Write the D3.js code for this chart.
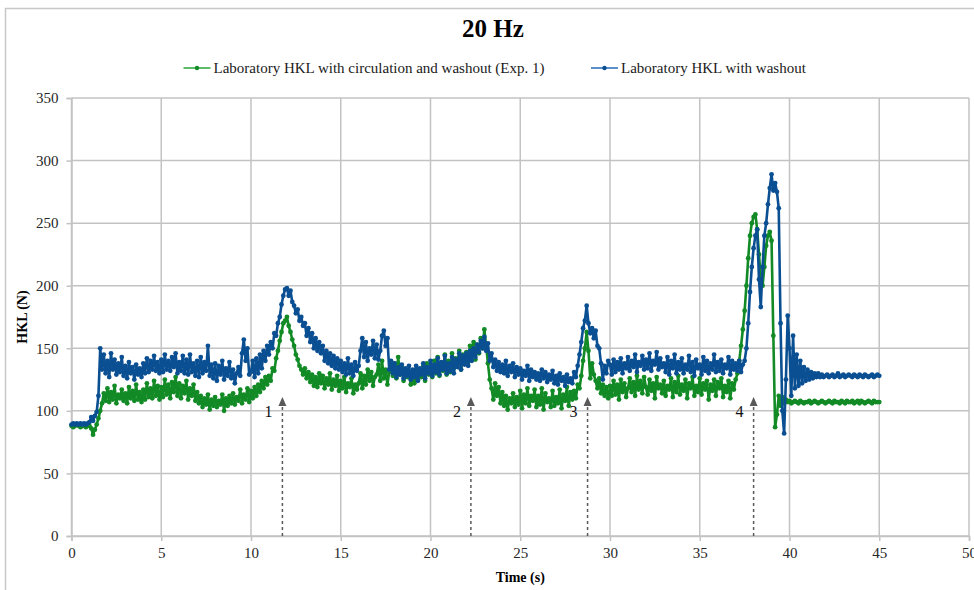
<!DOCTYPE html>
<html>
<head>
<meta charset="utf-8">
<script src="https://cdn.jsdelivr.net/npm/d3@7"></script>
<style>
body { margin: 0; background: #fff; }
svg text { font-family: "Liberation Serif", "Times New Roman", serif; }
</style>
</head>
<body>
<svg></svg>
<script>
var width = 974, height = 590;
var margin = {top: 98, right: 5, bottom: 54, left: 71.5};

var chartTitle = '20 Hz';
var xTitle = 'Time (s)';
var yTitle = 'HKL (N)';
var seriesNames = ['Laboratory HKL with circulation and washout (Exp. 1)', 'Laboratory HKL with washout'];

// samples every 0.1 s, starting at 0 s
var sampleStep = 0.1;

var greenValues = [
    88,87,88,89,88,87,88,88,87,88,
    88,86,81,85,89,94,100,106,114,108,
    118,107,115,109,120,106,113,110,117,108,
    114,106,119,110,116,108,121,109,115,107,
    117,109,122,111,118,110,124,112,120,109,
    119,111,125,113,121,110,123,115,127,112,
    122,110,120,114,124,109,118,112,121,108,
    115,106,112,103,110,105,113,101,109,104,
    111,103,108,105,113,100,110,104,112,106,
    114,105,111,108,117,106,113,109,118,107,
    116,110,119,112,121,115,124,118,127,121,
    128,124,134,132,142,148,156,163,170,172,
    175,168,163,157,152,145,141,136,133,129,
    134,126,131,123,129,120,127,119,130,122,
    128,118,126,121,130,117,125,120,128,116,
    124,118,127,115,122,119,126,114,121,117,
    122,130,118,128,121,133,124,131,120,127,
    129,137,124,140,126,133,121,131,136,128,
    138,126,143,129,135,124,132,127,130,121,
    128,122,133,125,131,127,136,124,138,129,
    135,127,140,130,143,128,138,132,145,129,
    140,131,146,134,142,136,148,133,145,138,
    147,139,152,144,155,141,153,146,158,150,
    165,152,138,125,118,109,122,112,119,106,
    115,104,112,101,110,106,114,103,111,105,
    116,102,113,106,118,104,112,108,117,103,
    112,105,118,101,114,107,110,103,116,104,
    111,106,117,102,113,108,119,104,115,109,
    116,110,121,118,128,140,150,163,148,126,
    138,129,124,118,126,114,121,112,119,110,
    120,112,124,113,121,109,125,115,122,111,
    118,126,115,123,112,128,117,124,114,127,
    119,113,125,116,122,110,127,118,121,114,
    124,112,120,117,126,111,123,115,128,113,
    121,116,125,110,122,118,127,112,120,115,
    126,113,122,117,124,109,121,116,125,112,
    123,118,126,111,120,115,124,110,122,117,
    125,130,140,152,165,180,200,222,240,250,
    255,257,245,225,205,200,215,232,240,243,
    236,160,87,97,112,104,111,106,109,107,
    108,106,107,108,107,106,108,107,106,107,
    107,108,106,107,108,107,106,107,108,107,
    106,107,108,107,106,108,107,107,106,108,
    107,106,108,107,107,108,106,107,108,106,
    108,107,106,107,108,107,106,108,107,107,
    107
];

var blueValues = [
    89,90,89,90,89,90,89,90,89,90,
    91,95,92,96,99,112,150,133,145,130,
    140,127,146,133,141,129,138,131,143,128,
    136,126,139,130,135,125,137,129,134,127,
    138,130,142,131,140,133,144,132,139,130,
    141,131,145,133,140,132,143,135,146,130,
    139,132,144,130,141,129,145,131,138,128,
    140,127,143,130,139,132,152,128,137,126,
    138,124,136,129,140,125,134,128,139,126,
    133,122,130,135,128,146,157,140,150,129,
    131,140,127,142,130,145,134,148,140,152,
    145,155,150,162,160,170,175,185,192,197,
    198,192,196,187,184,178,181,172,175,168,
    170,160,166,155,162,150,158,148,155,146,
    152,140,148,138,146,136,144,134,142,133,
    140,131,138,129,142,130,137,128,139,132,
    136,148,158,143,155,140,150,145,156,142,
    153,141,148,160,164,152,158,133,140,130,
    138,127,135,129,137,126,134,128,136,125,
    133,127,136,124,134,129,138,126,135,130,
    140,128,137,131,142,129,139,133,144,130,
    138,132,143,130,141,135,146,133,144,137,
    146,136,148,140,150,143,153,147,156,150,
    159,148,154,140,146,135,141,132,139,131,
    137,130,140,128,136,131,138,127,135,129,
    134,125,132,128,136,124,133,127,131,125,
    130,124,133,126,131,123,129,125,132,122,
    128,121,130,124,127,120,129,123,126,122,
    131,127,136,145,155,166,172,184,170,162,
    166,158,164,152,150,138,125,136,130,140,
    137,129,141,131,139,133,142,130,138,134,
    143,132,140,135,145,131,139,136,144,133,
    141,134,146,132,140,137,147,133,142,135,
    138,131,143,129,140,134,145,130,139,133,
    142,130,137,133,144,131,139,128,141,134,
    137,129,143,132,140,130,138,133,145,131,
    139,132,141,130,137,134,143,129,140,133,
    138,132,140,131,137,140,150,170,195,215,
    230,240,245,205,183,215,240,250,265,278,
    289,276,282,275,262,170,100,82,125,176,
    150,112,160,118,145,120,140,122,135,124,
    133,125,131,126,130,127,130,127,129,127,
    128,129,127,128,129,127,128,130,127,128,
    129,127,128,129,128,127,129,128,127,129,
    128,127,129,128,127,128,129,127,128,129,
    128
];

var xTicks = [0, 5, 10, 15, 20, 25, 30, 35, 40, 45, 50];
var yTicks = [0, 50, 100, 150, 200, 250, 300, 350];

// dashed arrows marking the events
var eventTimes = [11.75, 22.25, 28.75, 38];
var eventLabels = ['1', '2', '3', '4'];
var eventTip = 111;

var legendLineColors = ['#5dbb6c', '#5b8fc9'];
var seriesColors = ['#128a25', '#0b4f93'];
var gridColor = '#c3c3c3';

var svg = d3.select('svg')
    .attr('width', width)
    .attr('height', height);

// outer chart frame
svg.append('rect')
    .attr('x', 5.5)
    .attr('y', 8.5)
    .attr('width', width)
    .attr('height', height)
    .attr('fill', 'none')
    .attr('stroke', '#c8c8c8')
    .attr('stroke-width', 1.5);

var x = d3.scaleLinear()
    .domain([0, 50])
    .range([margin.left, width - margin.right]);

var y = d3.scaleLinear()
    .domain([0, 350])
    .range([height - margin.bottom, margin.top]);

// grid
svg.append('g')
    .selectAll('line')
    .data(yTicks)
    .enter()
    .append('line')
        .attr('x1', x(0))
        .attr('x2', x(50))
        .attr('y1', d => y(d))
        .attr('y2', d => y(d))
        .attr('stroke', gridColor)
        .attr('stroke-width', 1.5);

svg.append('g')
    .selectAll('line')
    .data(xTicks)
    .enter()
    .append('line')
        .attr('x1', d => x(d))
        .attr('x2', d => x(d))
        .attr('y1', y(0))
        .attr('y2', y(350))
        .attr('stroke', gridColor)
        .attr('stroke-width', 1.5);

// axes
var yAxis = svg.append('g')
    .attr('transform', `translate(${x(0)},0)`)
    .call(d3.axisLeft(y).tickValues(yTicks).tickSize(5).tickPadding(8));

var xAxis = svg.append('g')
    .attr('transform', `translate(0,${y(0)})`)
    .call(d3.axisBottom(x).tickValues(xTicks).tickSize(5).tickPadding(6));

[yAxis, xAxis].forEach(function(ax){
    ax.selectAll('path, line')
        .attr('stroke', gridColor)
        .attr('stroke-width', 1.5);
    ax.selectAll('text')
        .attr('fill', '#262626')
        .style('font-size', '15px')
        .style('font-family', '"Liberation Serif", serif');
});

// dashed event arrows
var events = svg.append('g')
    .selectAll('g')
    .data(eventTimes)
    .enter()
    .append('g');

events.append('line')
    .attr('x1', d => x(d))
    .attr('x2', d => x(d))
    .attr('y1', y(0))
    .attr('y2', y(eventTip) + 1)
    .attr('stroke', '#595959')
    .attr('stroke-width', 1.5)
    .attr('stroke-dasharray', '3,3');

events.append('path')
    .attr('d', d => `M${x(d) - 4},${y(eventTip) + 9} L${x(d)},${y(eventTip)} L${x(d) + 4},${y(eventTip) + 9} Z`)
    .attr('fill', '#595959');

events.append('text')
    .attr('x', d => x(d) - 10)
    .attr('y', y(eventTip) + 20)
    .attr('text-anchor', 'end')
    .style('font-size', '16px')
    .attr('fill', '#111')
    .text((d, i) => eventLabels[i]);

// series: dense samples drawn as a thick line with a dot on every sample
var allSeries = [greenValues, blueValues];

var line = d3.line()
    .x((d, i) => x(i * sampleStep))
    .y(d => y(d));

allSeries.forEach(function(values, k){
    var g = svg.append('g');
    g.append('path')
        .attr('d', line(values))
        .attr('fill', 'none')
        .attr('stroke', seriesColors[k])
        .attr('stroke-width', 2.6)
        .attr('stroke-linejoin', 'round');
    g.selectAll('circle')
        .data(values)
        .enter()
        .append('circle')
            .attr('cx', (d, i) => x(i * sampleStep))
            .attr('cy', d => y(d))
            .attr('r', 2.4)
            .attr('fill', seriesColors[k]);
});

// title
svg.append('text')
    .attr('x', 493)
    .attr('y', 37)
    .attr('text-anchor', 'middle')
    .style('font-size', '25px')
    .style('font-weight', 'bold')
    .text(chartTitle);

// legend
var legendX = [183.5, 591];
var legend = svg.append('g')
    .selectAll('g')
    .data(seriesNames)
    .enter()
    .append('g')
        .attr('transform', (d, i) => `translate(${legendX[i]},68)`);

legend.append('line')
    .attr('x1', 0)
    .attr('x2', 27)
    .attr('stroke', (d, i) => legendLineColors[i])
    .attr('stroke-width', 2);

legend.append('circle')
    .attr('cx', 13.5)
    .attr('r', 2.2)
    .attr('fill', (d, i) => seriesColors[i]);

legend.append('text')
    .attr('x', 30)
    .attr('y', 5)
    .style('font-size', '15px')
    .attr('fill', '#1a1a1a')
    .text(d => d);

// axis titles
svg.append('text')
    .attr('x', x(25))
    .attr('y', 582)
    .attr('text-anchor', 'middle')
    .style('font-size', '14px')
    .style('font-weight', 'bold')
    .text(xTitle);

svg.append('text')
    .attr('transform', `translate(27,${y(175)}) rotate(-90)`)
    .attr('text-anchor', 'middle')
    .style('font-size', '14px')
    .style('font-weight', 'bold')
    .text(yTitle);
</script>
</body>
</html>
